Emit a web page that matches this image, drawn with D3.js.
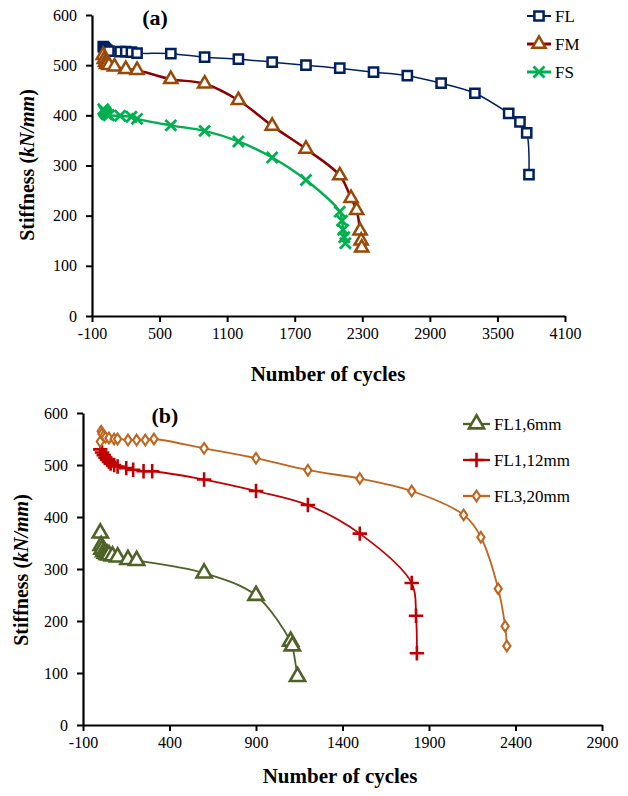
<!DOCTYPE html>
<html>
<head>
<meta charset="utf-8">
<script src="https://cdn.jsdelivr.net/npm/d3@7"></script>
<style>
  body { margin: 0; background: #fff; }
  svg { display: block; font-family: "Liberation Serif", "Times New Roman", serif; }
</style>
</head>
<body>
<div id="chart"></div>
<script>
// panel (a) data
var aFLx = [0, 10, 20, 30, 50, 150, 200, 250, 300, 600, 900, 1200, 1500, 1800, 2100, 2400, 2700, 3000, 3300, 3600, 3700, 3760, 3780];
var aFLy = [537, 535, 532, 530, 528, 527, 527, 526, 524, 523, 516, 512, 506, 500, 494, 486, 479, 464, 444, 404, 387, 365, 282];
var aFMx = [0, 10, 20, 30, 50, 100, 200, 300, 600, 900, 1200, 1500, 1800, 2100, 2200, 2250, 2280, 2290, 2295];
var aFMy = [520, 512, 506, 502, 500, 497, 492, 490, 472, 463, 430, 379, 333, 280, 235, 211, 170, 150, 136];
var aFSx = [0, 10, 20, 30, 50, 150, 250, 300, 600, 900, 1200, 1500, 1800, 2100, 2120, 2130, 2140, 2150];
var aFSy = [412, 408, 405, 402, 400, 399, 397, 393, 380, 369, 348, 316, 271, 208, 190, 172, 157, 145];

// panel (b) data
var bF6x = [0, 5, 10, 20, 30, 40, 50, 70, 100, 160, 210, 600, 900, 1100, 1110, 1140];
var bF6y = [369, 345, 338, 333, 330, 328, 327, 325, 323, 318, 316, 292, 249, 161, 152, 93];
var bF12x = [0, 10, 20, 30, 40, 50, 60, 80, 100, 150, 190, 250, 300, 600, 900, 1200, 1500, 1800, 1825, 1830];
var bF12y = [530, 524, 519, 514, 510, 506, 503, 500, 497, 494, 491, 488, 488, 472, 450, 423, 368, 273, 210, 138];
var bF20x = [0, 5, 10, 20, 30, 50, 80, 100, 160, 210, 260, 310, 600, 900, 1200, 1500, 1800, 2100, 2200, 2300, 2340, 2350];
var bF20y = [545, 565, 560, 556, 553, 552, 550, 550, 548, 548, 548, 550, 532, 513, 490, 474, 450, 404, 361, 262, 190, 152];

var aTicksX = d3.range(-100, 4101, 600);
var bTicksX = d3.range(-100, 2901, 500);
var yTicks = d3.range(0, 601, 100);

var svg = d3.select("#chart").append("svg")
    .attr("width", 628)
    .attr("height", 796);

function zip(xs, ys) { return xs.map((x, i) => ({ x: x, y: ys[i] })); }

function drawPanel(p) {
    var x = d3.scaleLinear().domain(p.xDomain).range(p.xRange);
    var y = d3.scaleLinear().domain([0, 600]).range(p.yRange);

    // axes
    var gx = svg.append("g")
        .attr("transform", "translate(0," + p.yRange[0] + ")")
        .call(d3.axisBottom(x).tickValues(p.xTicks).tickFormat(d => String(d))
            .tickSize(6).tickSizeOuter(0).tickPadding(6));
    var gy = svg.append("g")
        .attr("transform", "translate(" + p.xRange[0] + ",0)")
        .call(d3.axisLeft(y).tickValues(yTicks).tickFormat(d => String(d))
            .tickSize(6).tickSizeOuter(0).tickPadding(9));
    [gx, gy].forEach(g => {
        g.select(".domain").attr("stroke", "#000").attr("stroke-width", 2.2);
        g.selectAll(".tick line").attr("stroke", "#000").attr("stroke-width", 2);
        g.selectAll(".tick text").attr("fill", "#000")
            .style("font-family", "Liberation Serif").style("font-size", "16px");
    });

    // axis titles
    svg.append("text")
        .attr("x", p.xTitle[0]).attr("y", p.xTitle[1])
        .attr("text-anchor", "middle")
        .style("font-size", "21px").style("font-weight", "bold")
        .text("Number of cycles");
    var yt = svg.append("text")
        .attr("transform", "translate(" + p.yTitle[0] + "," + p.yTitle[1] + ") rotate(-90)")
        .attr("text-anchor", "middle")
        .style("font-size", "20px").style("font-weight", "bold");
    yt.append("tspan").text("Stiffness (");
    yt.append("tspan").style("font-style", "italic").text("kN/mm");
    yt.append("tspan").text(")");

    // panel label
    svg.append("text")
        .attr("x", p.label[0]).attr("y", p.label[1])
        .attr("text-anchor", "middle")
        .style("font-size", "22px").style("font-weight", "bold")
        .text(p.labelText);

    var line = d3.line()
        .x(d => x(d.x)).y(d => y(d.y))
        .curve(d3.curveCatmullRom.alpha(0.5));

    p.series.forEach((s, i) => {
        var data = zip(s.xs, s.ys);
        svg.append("path")
            .datum(data)
            .attr("fill", "none")
            .attr("stroke", s.line)
            .attr("stroke-width", s.lw)
            .attr("d", line);

        var sym = d3.symbol().type(s.type).size(s.size);
        svg.append("g").selectAll("path")
            .data(data)
            .enter().append("path")
            .attr("d", sym)
            .attr("transform", d => "translate(" + x(d.x) + "," + y(d.y) + ")" + (s.scaleY ? " scale(1," + s.scaleY + ")" : ""))
            .attr("fill", s.fill)
            .attr("stroke", s.color)
            .attr("stroke-width", s.mw);

        // legend entry
        var ly = p.legend.y + i * p.legend.dy;
        svg.append("line")
            .attr("x1", p.legend.x).attr("x2", p.legend.x + p.legend.len)
            .attr("y1", ly).attr("y2", ly)
            .attr("stroke", s.line).attr("stroke-width", s.lw + 0.5);
        svg.append("path")
            .attr("d", d3.symbol().type(s.type).size(s.size)())
            .attr("transform", "translate(" + (p.legend.x + p.legend.len / 2) + "," + ly + ")" + (s.scaleY ? " scale(1," + s.scaleY + ")" : ""))
            .attr("fill", s.fill).attr("stroke", s.color).attr("stroke-width", s.mw);
        svg.append("text")
            .attr("x", p.legend.x + p.legend.len + 4).attr("y", ly + 6)
            .style("font-size", p.legend.fs)
            .text(s.name);
    });
}

drawPanel({
    xDomain: [-100, 4100], xRange: [92, 565], yRange: [316, 15],
    xTicks: aTicksX,
    xTitle: [328, 381], yTitle: [34, 165],
    label: [155, 25], labelText: "(a)",
    legend: { x: 527, y: 16, dy: 28, len: 24, fs: "17px" },
    series: [
        { name: "FL", xs: aFLx, ys: aFLy, color: "#002060", line: "#002060", fill: "#fff", lw: 1.5, type: d3.symbolSquare, size: 85, mw: 2.5 },
        { name: "FM", xs: aFMx, ys: aFMy, color: "#984807", line: "#8b0000", fill: "#fff", lw: 2.5, type: d3.symbolTriangle, size: 75, mw: 2.5 },
        { name: "FS", xs: aFSx, ys: aFSy, color: "#00b050", line: "#00b050", fill: "none", lw: 2.5, type: d3.symbolTimes, size: 80, mw: 2.8 }
    ]
});

drawPanel({
    xDomain: [-100, 2900], xRange: [83, 602], yRange: [725, 413],
    xTicks: bTicksX,
    xTitle: [340, 783], yTitle: [28, 570],
    label: [165, 423], labelText: "(b)",
    legend: { x: 463, y: 424, dy: 36, len: 27, fs: "17px" },
    series: [
        { name: "FL1,6mm", xs: bF6x, ys: bF6y, color: "#4f6228", line: "#4f6228", fill: "#fff", lw: 1.8, type: d3.symbolTriangle, size: 100, mw: 2.6 },
        { name: "FL1,12mm", xs: bF12x, ys: bF12y, color: "#c00000", line: "#c00000", fill: "none", lw: 1.8, type: d3.symbolPlus, size: 70, mw: 2.6 },
        { name: "FL3,20mm", xs: bF20x, ys: bF20y, color: "#c0651f", line: "#c0651f", fill: "#fff", lw: 1.8, type: d3.symbolDiamond, size: 45, mw: 2.2, scaleY: 0.85 }
    ]
});
</script>
</body>
</html>
